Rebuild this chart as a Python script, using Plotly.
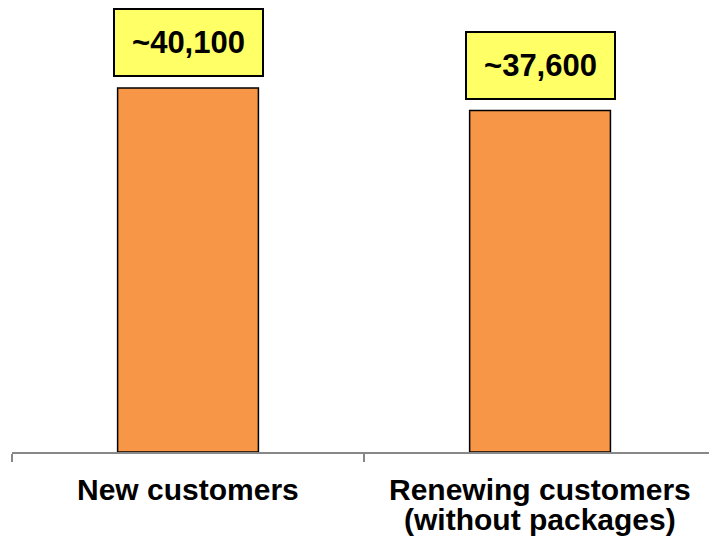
import plotly.graph_objects as go

categories = ["New customers", "Renewing customers<br>(without packages)"]
values = [40100, 37600]
value_labels = ["~40,100", "~37,600"]

bar_color = "#F79646"
box_color = "#FFFF66"
font_family = "Arial, Liberation Sans, sans-serif"

xs = list(range(len(categories)))

fig = go.Figure()
fig.add_trace(go.Bar(
    x=xs, y=values, width=0.4,
    marker=dict(color=bar_color, line=dict(color="black", width=1.5)),
    hoverinfo="skip",
))

annotations = []
for xi, v, lab in zip(xs, values, value_labels):
    annotations.append(dict(
        x=xi, y=v, xref="x", yref="y", text=lab, showarrow=False,
        yanchor="bottom", yshift=11,
        font=dict(family=font_family, size=31, color="black", weight="bold"),
        bgcolor=box_color, bordercolor="black", borderwidth=2, borderpad=1,
        width=145, height=63,
    ))
for xi, cat in zip(xs, categories):
    for li, line in enumerate(cat.split("<br>")):
        annotations.append(dict(
            x=xi, y=0, xref="x", yref="paper", text=line, showarrow=False,
            yanchor="middle", yshift=-37 - 30 * li,
            font=dict(family=font_family, size=30, color="black", weight="bold"),
        ))

fig.update_layout(
    width=709, height=539,
    margin=dict(l=12, r=0, t=8, b=87),
    paper_bgcolor="white", plot_bgcolor="white",
    showlegend=False,
    annotations=annotations,
    xaxis=dict(
        range=[-0.5, 1.48], tickvals=[-0.5, 0.5, 1.5], showticklabels=False,
        ticks="outside", ticklen=8, tickwidth=2, tickcolor="#888888",
        showline=True, linecolor="#888888", linewidth=2,
        showgrid=False, zeroline=False,
    ),
    yaxis=dict(range=[0, 48900], visible=False, showgrid=False, zeroline=False),
)

fig.write_html("out.html")
